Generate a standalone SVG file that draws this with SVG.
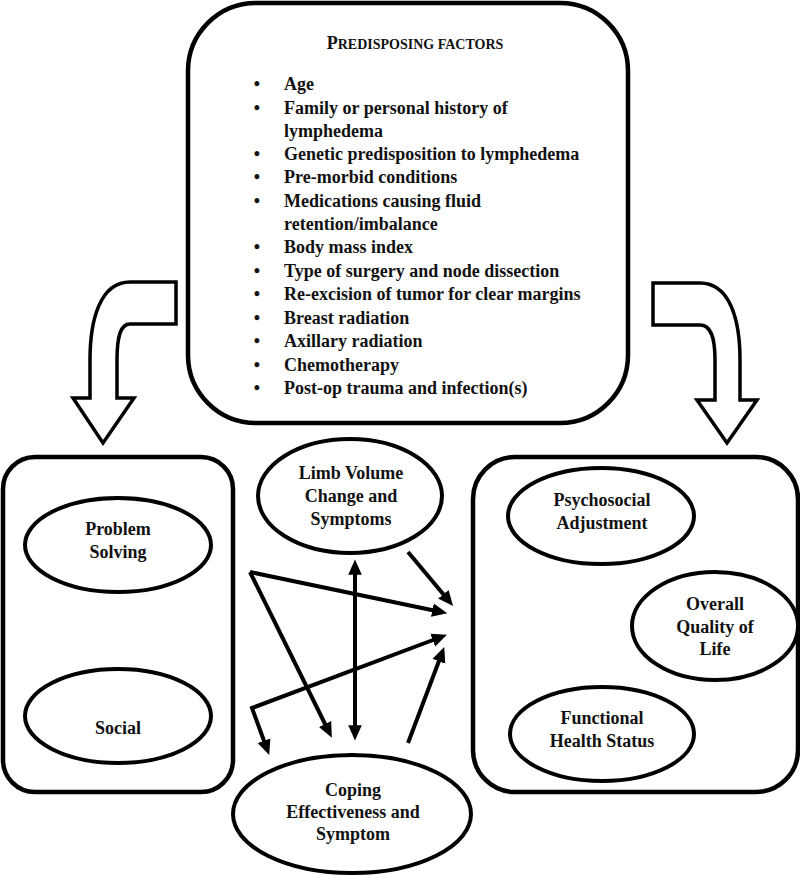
<svg xmlns="http://www.w3.org/2000/svg" width="800" height="876" viewBox="0 0 800 876">
<style>
  .box { fill: #fff; stroke: #000; stroke-width: 4.5; }
  .ell { fill: #fff; stroke: #000; stroke-width: 4; }
  .blk { fill: #fff; stroke: #000; stroke-width: 3.5; stroke-linejoin: miter; }
  .t { font-family: "Liberation Serif", "Times New Roman", serif; font-weight: bold; font-size: 18px; fill: #111; }
  .c { text-anchor: middle; }
  .con { fill: none; stroke: #000; stroke-width: 4; }
</style>
<defs>
  <marker id="ah" markerWidth="4" markerHeight="4" refX="2.2" refY="2" orient="auto-start-reverse" markerUnits="strokeWidth">
    <path d="M0,0.3 L3.8,2 L0,3.7 Z" fill="#000"/>
  </marker>
</defs>
<rect width="800" height="876" fill="#fff"/>

<g id="predisposing">
  <rect class="box" x="188" y="3" width="440" height="420" rx="68" ry="68"/>
  <text class="t c" x="415" y="49"><tspan font-size="18">P</tspan><tspan font-size="14">REDISPOSING FACTORS</tspan></text>
  <g class="t">
    <text x="257" y="90" class="c">•</text><text x="284" y="90">Age</text>
    <text x="257" y="114" class="c">•</text><text x="284" y="114">Family or personal history of</text>
    <text x="284" y="137">lymphedema</text>
    <text x="257" y="160" class="c">•</text><text x="284" y="160">Genetic predisposition to lymphedema</text>
    <text x="257" y="183" class="c">•</text><text x="284" y="183">Pre-morbid conditions</text>
    <text x="257" y="207" class="c">•</text><text x="284" y="207">Medications causing fluid</text>
    <text x="284" y="230">retention/imbalance</text>
    <text x="257" y="253" class="c">•</text><text x="284" y="253">Body mass index</text>
    <text x="257" y="277" class="c">•</text><text x="284" y="277">Type of surgery and node dissection</text>
    <text x="257" y="300" class="c">•</text><text x="284" y="300">Re-excision of tumor for clear margins</text>
    <text x="257" y="324" class="c">•</text><text x="284" y="324">Breast radiation</text>
    <text x="257" y="347" class="c">•</text><text x="284" y="347">Axillary radiation</text>
    <text x="257" y="371" class="c">•</text><text x="284" y="371">Chemotherapy</text>
    <text x="257" y="394" class="c">•</text><text x="284" y="394">Post-op trauma and infection(s)</text>
  </g>
</g>

<g id="block-arrows">
  <path class="blk" d="M176,282 L130,282 C100,282 90,320 90,360 L90,398 L73,398 L103,443 L134,398 L117,398 L117,360 C117,335 121,324 130,324 L176,324 Z"/>
  <path class="blk" d="M653,283 L700,283 C730,283 740,320 740,360 L740,400 L757,400 L727,443 L697,400 L715,400 L715,360 C715,335 710,325 700,325 L653,325 Z"/>
</g>

<g id="coping-styles">
  <rect class="box" x="3" y="457" width="230" height="335" rx="32" ry="32"/>
</g>
<g id="problem-solving">
  <ellipse class="ell" cx="118" cy="545" rx="93" ry="47"/>
  <text class="t c" x="118" y="535">Problem</text>
  <text class="t c" x="118" y="558">Solving</text>
</g>
<g id="social">
  <ellipse class="ell" cx="118" cy="716" rx="93" ry="47"/>
  <text class="t c" x="118" y="734">Social</text>
</g>

<g id="outcomes">
  <rect class="box" x="473" y="457" width="325" height="335" rx="42" ry="42"/>
</g>
<g id="psychosocial">
  <ellipse class="ell" cx="601" cy="516" rx="93" ry="48"/>
  <text class="t c" x="602" y="506">Psychosocial</text>
  <text class="t c" x="602" y="529">Adjustment</text>
</g>
<g id="quality-of-life">
  <ellipse class="ell" cx="715" cy="626" rx="83" ry="54"/>
  <text class="t c" x="715" y="610">Overall</text>
  <text class="t c" x="715" y="633">Quality of</text>
  <text class="t c" x="715" y="655">Life</text>
</g>
<g id="functional">
  <ellipse class="ell" cx="602" cy="734" rx="92" ry="47"/>
  <text class="t c" x="602" y="724">Functional</text>
  <text class="t c" x="602" y="747">Health Status</text>
</g>

<g id="limb-volume">
  <ellipse class="ell" cx="350" cy="496" rx="92" ry="57"/>
  <text class="t c" x="351" y="479">Limb Volume</text>
  <text class="t c" x="351" y="502">Change and</text>
  <text class="t c" x="351" y="525">Symptoms</text>
</g>
<g id="coping-effectiveness">
  <ellipse class="ell" cx="352" cy="814" rx="119" ry="59"/>
  <text class="t c" x="353" y="796">Coping</text>
  <text class="t c" x="353" y="818">Effectiveness and</text>
  <text class="t c" x="353" y="840">Symptom</text>
</g>

<g id="connectors">
  <path class="con" d="M408,552 L449,601" marker-end="url(#ah)"/>
  <path class="con" d="M250,572 L441,612" marker-end="url(#ah)"/>
  <path class="con" d="M250,572 L329,732" marker-end="url(#ah)"/>
  <path class="con" d="M355,566 L355,734" marker-start="url(#ah)" marker-end="url(#ah)"/>
  <path class="con" d="M267,749 L252,708 L441,637" marker-start="url(#ah)" marker-end="url(#ah)"/>
  <path class="con" d="M408,743 L442,653" marker-end="url(#ah)"/>
</g>
</svg>
